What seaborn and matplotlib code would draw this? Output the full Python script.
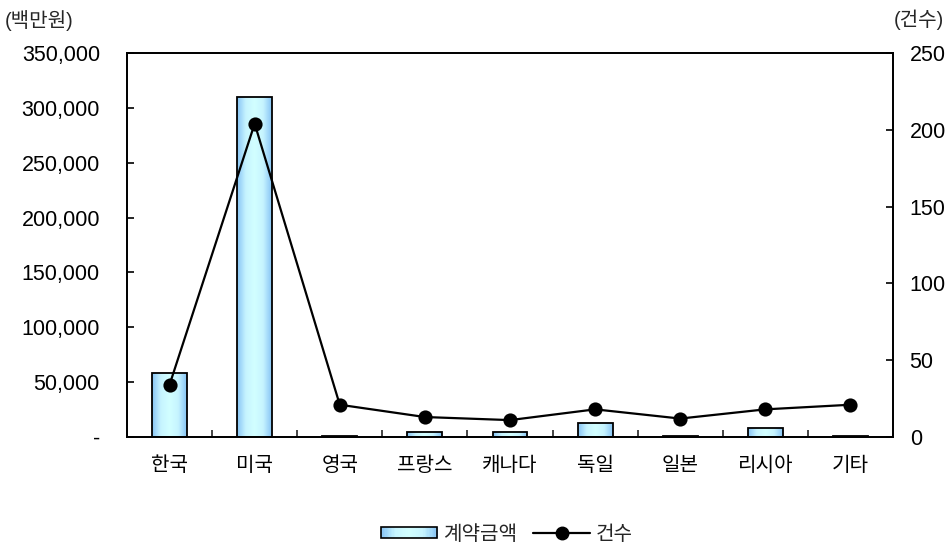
import numpy as np
import pandas as pd
import matplotlib
matplotlib.use("Agg")
import matplotlib.pyplot as plt
import seaborn as sns
from matplotlib.patches import Patch, Rectangle
from matplotlib.lines import Line2D
from matplotlib.legend_handler import HandlerPatch
from matplotlib.colors import LinearSegmentedColormap

# Contract amount (million KRW) and number of contracts by country
countries = ["한국", "미국", "영국", "프랑스", "캐나다", "독일", "일본", "리시아", "기타"]
amounts = [58000, 310000, 1000, 4800, 4500, 12500, 1000, 8500, 1000]
counts = [34, 204, 21, 13, 11, 18, 12, 18, 21]
left_ticks = [0, 50000, 100000, 150000, 200000, 250000, 300000, 350000]
left_labels = ["-", "50,000", "100,000", "150,000", "200,000", "250,000", "300,000", "350,000"]
right_ticks = [0, 50, 100, 150, 200, 250]

sns.set_theme(style="white")
plt.rcParams["font.family"] = ["Liberation Sans", "Noto Sans CJK KR"]
plt.rcParams["axes.unicode_minus"] = False

NUM_SIZE = 15.5
KOR_SIZE = 14.5

df = pd.DataFrame({"country": countries, "amount": amounts, "count": counts})

grad_colors = ["#86c3f5", "#c6f4ff", "#d2ffff", "#c6f4ff", "#86c3f5"]
grad_cmap = LinearSegmentedColormap.from_list("bar_grad", grad_colors)

fig = plt.figure(figsize=(9.51, 5.44), dpi=100)
ax = fig.add_axes([127 / 951, 1 - 437 / 544, 766 / 951, 384 / 544])

sns.barplot(data=df, x="country", y="amount", ax=ax, width=0.41,
            color="#b8e4fb", edgecolor="black", linewidth=1.3, saturation=1)

# Horizontal gradient fill inside each bar
grad = np.linspace(0, 1, 256).reshape(1, -1)
for p in ax.patches:
    x0, y0 = p.get_x(), p.get_y()
    w, h = p.get_width(), p.get_height()
    im = ax.imshow(grad, cmap=grad_cmap, aspect="auto",
                   extent=[x0, x0 + w, y0, y0 + h], zorder=1.9,
                   interpolation="bicubic")
    im.set_clip_path(p)
    p.set_facecolor("none")
    p.set_zorder(2)

ax.set_ylim(0, 350000)
ax.set_yticks(left_ticks)
ax.set_yticklabels(left_labels)
ax.set_xlim(-0.5, len(countries) - 0.5)
ax.set_xlabel("")
ax.set_ylabel("")

ax2 = ax.twinx()
sns.pointplot(data=df, x="country", y="count", ax=ax2, color="black",
              markers="o", linestyles="-", markersize=9, linewidth=1.6)
ax2.set_ylim(0, 250)
ax2.set_yticks(right_ticks)
ax2.set_ylabel("")
ax2.set_xlim(-0.5, len(countries) - 0.5)

# small ticks between the category slots
ax.set_xticks(np.arange(0.5, len(countries) - 1, 1), minor=True)

for a in (ax, ax2):
    for s in a.spines.values():
        s.set_color("black")
        s.set_linewidth(1.3)

ax.tick_params(axis="y", direction="in", length=5, width=1.2,
               labelsize=NUM_SIZE, colors="black", pad=19.5)
ax.tick_params(axis="x", which="major", length=0, labelsize=KOR_SIZE,
               pad=14, colors="black")
ax.tick_params(axis="x", which="minor", direction="in", length=5, width=1.2,
               bottom=True)
ax2.tick_params(axis="y", direction="in", length=5, width=1.2,
                labelsize=NUM_SIZE, colors="black", pad=12)
for lbl in ax.get_yticklabels():
    lbl.set_horizontalalignment("right")

fig.text(0.005, 0.963, "(백만원)", fontsize=KOR_SIZE, ha="left", va="center")
fig.text(0.993, 0.963, "(건수)", fontsize=KOR_SIZE, ha="right", va="center")


class GradientPatchHandler(HandlerPatch):
    """Legend key drawn as a horizontally shaded box with a black outline."""

    def create_artists(self, legend, orig_handle, xdescent, ydescent,
                       width, height, fontsize, trans):
        artists = []
        n = 40
        for i in range(n):
            c = grad_cmap((i + 0.5) / n)
            r = Rectangle((-xdescent + width * i / n, -ydescent), width / n + 0.3,
                          height, facecolor=c, edgecolor="none", transform=trans)
            artists.append(r)
        outline = Rectangle((-xdescent, -ydescent), width, height,
                            facecolor="none", edgecolor="black", linewidth=1.2,
                            transform=trans)
        artists.append(outline)
        return artists


bar_handle = Patch(facecolor="#b8e4fb", edgecolor="black", label="계약금액")
line_handle = Line2D([0], [0], color="black", marker="o", markersize=9,
                     linewidth=1.6, label="건수")
fig.legend(handles=[bar_handle, line_handle], loc="center",
           bbox_to_anchor=(0.533, 0.018), ncol=2, frameon=False,
           fontsize=KOR_SIZE, handlelength=2.8, handleheight=0.5,
           handletextpad=0.3, columnspacing=0.8,
           handler_map={Patch: GradientPatchHandler()})

fig.savefig("out.png", dpi=100)
